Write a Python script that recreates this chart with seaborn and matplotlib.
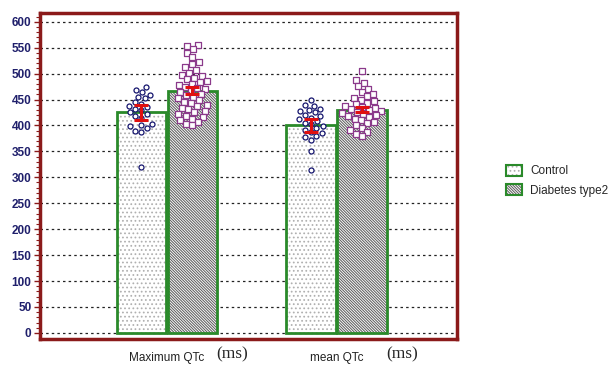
import numpy as np
import pandas as pd
import matplotlib
matplotlib.use("Agg")
import matplotlib.pyplot as plt
import matplotlib.transforms as mtransforms
from matplotlib.patches import Patch
import seaborn as sns

# data
measures = ["Maximum QTc", "mean QTc"]
groups = ["Control", "Diabetes type2"]

bar_mean = {"Control": [425, 400], "Diabetes type2": [467, 430]}
bar_se = {"Control": [14, 13], "Diabetes type2": [7, 5]}

ctrl_max = [475, 468, 465, 458, 455, 452, 445, 442, 438, 435, 432, 430, 425,
            422, 418, 415, 402, 400, 398, 395, 390, 388, 320]
diab_max = [555, 553, 547, 540, 532, 522, 518, 512, 506, 502, 498, 495, 492,
            489, 486, 483, 480, 478, 475, 472, 470, 467, 464, 461, 458, 455,
            452, 449, 446, 443, 440, 437, 434, 431, 428, 425, 422, 419, 416,
            413, 410, 406, 402, 400]
ctrl_mean = [450, 440, 437, 432, 430, 428, 425, 420, 418, 415, 412, 408, 405,
             402, 398, 395, 392, 388, 385, 380, 378, 372, 350, 315]
diab_mean = [505, 488, 482, 476, 470, 465, 461, 457, 453, 450, 447, 444, 441,
             438, 436, 434, 432, 430, 428, 426, 424, 422, 420, 418, 416, 413,
             410, 407, 404, 400, 396, 392, 388, 384, 380]

points = {
    ("Control", 0): ctrl_max,
    ("Diabetes type2", 0): diab_max,
    ("Control", 1): ctrl_mean,
    ("Diabetes type2", 1): diab_mean,
}

# layout: each group sits +/- 0.15 around its measure position
shift = {"Control": -0.15, "Diabetes type2": 0.15}

bars = pd.DataFrame([
    {"group": g, "measure": i, "pos": i + shift[g],
     "qtc": bar_mean[g][i], "se": bar_se[g][i]}
    for g in groups for i in range(len(measures))
])
pts = pd.DataFrame([
    {"group": g, "pos": i + shift[g], "qtc": v}
    for (g, i), vals in points.items() for v in vals
])

sns.set_style("white")
plt.rcParams["font.family"] = ["Liberation Sans", "DejaVu Sans"]
plt.rcParams["hatch.linewidth"] = 0.75

fig = plt.figure(figsize=(6.11, 3.69), dpi=100)
ax = fig.add_axes([0.065, 0.081, 0.683, 0.884])

green = "#2a8a2a"
hatch = {"Control": "....", "Diabetes type2": "\\" * 12}
hatch_col = {"Control": "#b0b0b0", "Diabetes type2": "#606060"}

# hatched fill
sns.barplot(data=bars, x="pos", y="qtc", hue="group", hue_order=groups,
            native_scale=True, dodge=False, width=0.97, errorbar=None,
            palette=["white", "white"], linewidth=0, legend=False, ax=ax)
for bar, g in zip(ax.patches, [g for g in groups for _ in measures]):
    bar.set_hatch(hatch[g])
    bar.set_edgecolor(hatch_col[g])
    bar.set_linewidth(0)

# green outline
sns.barplot(data=bars, x="pos", y="qtc", hue="group", hue_order=groups,
            native_scale=True, dodge=False, width=0.97, errorbar=None,
            fill=False, palette=[green, green], linewidth=2,
            legend=False, ax=ax)

# individual values
sns.swarmplot(data=pts[pts.group == "Control"], x="pos", y="qtc",
              native_scale=True, marker="o", color="white",
              edgecolor="#15156e", linewidth=0.9, size=3.6, ax=ax)
sns.swarmplot(data=pts[pts.group == "Diabetes type2"], x="pos", y="qtc",
              native_scale=True, marker="s", color="white",
              edgecolor="#8b3a8b", linewidth=0.9, size=3.8, warn_thresh=1, ax=ax)

ax.errorbar(bars.pos, bars.qtc, yerr=bars.se, fmt="none", ecolor="#e01010",
            elinewidth=2.2, capsize=5, capthick=2.2, zorder=6)

ax.set_xlim(-0.75, 1.71)
ax.set_ylim(-12, 617)
ax.set_yticks(range(0, 601, 50))
ax.set_yticks(range(0, 611, 10), minor=True)
ax.yaxis.grid(True, which="major", color="#222222", linestyle=(0, (2, 2.5)),
              linewidth=0.9)
ax.set_axisbelow(True)

ax.set_xticks(range(len(measures)))
ax.set_xticklabels(measures, fontsize=8.5, color="#222222")
ax.tick_params(axis="x", length=0, pad=9)
ax.tick_params(axis="y", which="both", direction="out", color="#8b1a1a",
               labelsize=8.5, labelcolor="#1f1f6b", pad=2)
ax.tick_params(axis="y", which="major", length=4, width=1)
ax.tick_params(axis="y", which="minor", length=3, width=0.8)
ax.tick_params(left=True, which="both")
for lab in ax.get_yticklabels():
    lab.set_fontweight("bold")
ax.set_xlabel("")
ax.set_ylabel("")

for s in ax.spines.values():
    s.set_color("#8b1a1a")
    s.set_linewidth(2.5)

trans = mtransforms.blended_transform_factory(ax.transData, ax.transAxes)
for i in range(len(measures)):
    ax.annotate("(ms)", xy=(i, 0), xycoords=trans, xytext=(47, -11),
                textcoords="offset points", ha="center", va="center",
                fontsize=12.5, family="Liberation Serif")

handles = [
    (Patch(facecolor="white", edgecolor=hatch_col[g], hatch=hatch[g], linewidth=0),
     Patch(facecolor="none", edgecolor=green, linewidth=1.5))
    for g in groups
]
fig.legend(handles, groups, loc="center left", bbox_to_anchor=(0.81, 0.51),
           frameon=False, fontsize=8.5, handlelength=1.4, handleheight=1.0,
           labelspacing=0.6, handletextpad=0.7)

fig.savefig("out.png", dpi=100)
